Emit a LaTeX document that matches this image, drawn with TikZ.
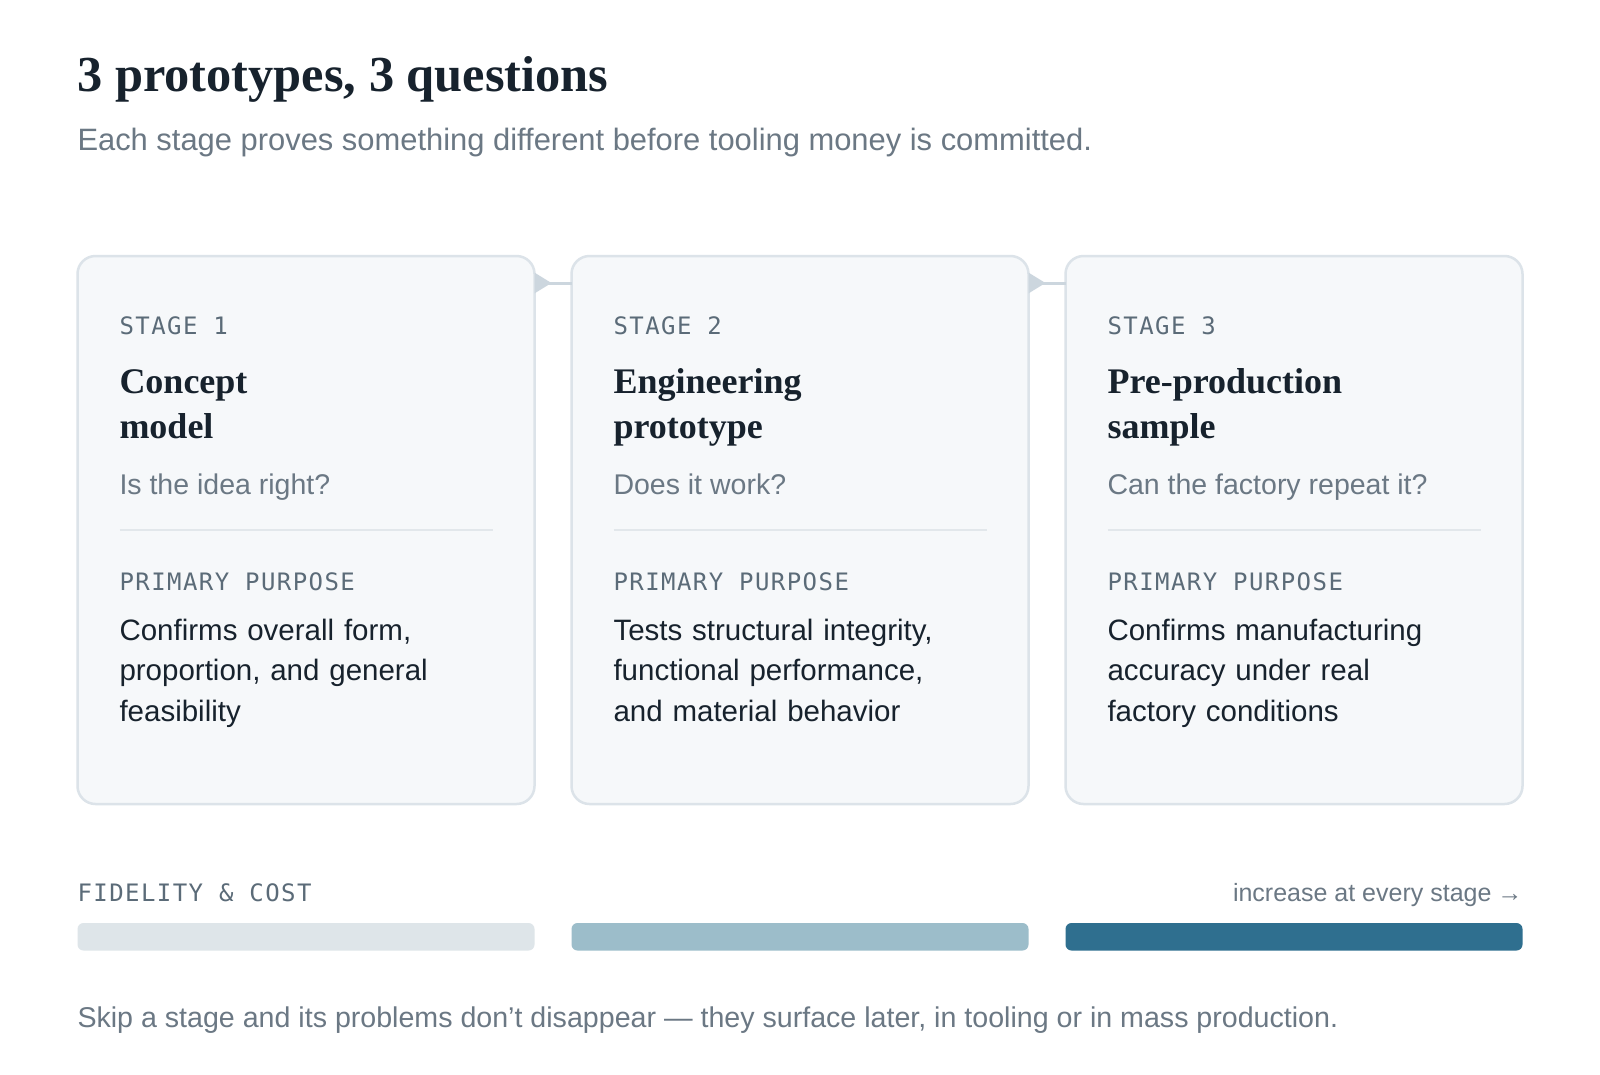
\documentclass[tikz,border=0pt]{standalone}
\usepackage{fontspec}
\setmainfont{Liberation Sans}
\newfontfamily\headfont{Liberation Serif}
\newfontfamily\tagfont[LetterSpace=6]{DejaVu Sans Mono}
\usetikzlibrary{positioning, arrows.meta}
\definecolor{ink}{HTML}{17222D}
\definecolor{mute}{HTML}{6B7884}
\definecolor{tagc}{HTML}{5B6B78}
\definecolor{cardfill}{HTML}{F6F8FA}
\definecolor{cardline}{HTML}{DCE3E9}
\definecolor{rulec}{HTML}{E2E7EB}
\definecolor{linkc}{HTML}{CCD6DE}
\definecolor{barlo}{HTML}{DEE5E9}
\definecolor{barmid}{HTML}{9CBDCA}
\definecolor{barhi}{HTML}{2F6F8F}
\tikzset{
    card/.style={
        draw=cardline, fill=cardfill, line width=2.5pt,
        rounded corners=18pt, inner sep=0pt, outer sep=0pt,
        minimum width=457pt, minimum height=548pt, anchor=north west
    },
    bar/.style={
        inner sep=0pt, outer sep=0pt, rounded corners=6pt,
        minimum width=457pt, minimum height=27.5pt
    },
    txt/.style={inner sep=0pt, outer sep=0pt, anchor=base west},
    tag/.style={txt, text=tagc, font=\tagfont\fontsize{24}{28}\selectfont},
    head/.style={txt, text=ink, text width=380pt, align=left,
        font=\headfont\bfseries\fontsize{36}{45}\selectfont},
    ask/.style={txt, text=mute, font=\fontsize{28.5}{34}\selectfont},
    body/.style={txt, text=ink, text width=390pt, align=left,
        font=\fontsize{29.5}{40.5}\selectfont},
    rule/.style={draw=rulec, line width=2pt},
    link/.style={draw=linkc, line width=3pt,
        {Triangle[reversed, length=17pt, width=20pt]}-}
}

\begin{document}
\begin{tikzpicture}[x=1pt, y=-1pt, node distance=37pt]
\fill[white] (0,0) rectangle (1600,1074);
\useasboundingbox (0,0) rectangle (1600,1074);

% heading
\node[txt, text=ink, font=\headfont\bfseries\fontsize{50.4}{60}\selectfont] (T) at (77.5,91) {3 prototypes, 3 questions};
\node[txt, text=mute, font=\fontsize{30.9}{36}\selectfont] (S) at (77.5,150) {Each stage proves something different before tooling money is committed.};

% cards
\node[card]               (A) at (77.5,256) {};
\node[card, right=of A]   (B) {};
\node[card, right=of B]   (C) {};

\node[tag]  (A1) at ([shift={(42,78)}]A.north west)  {STAGE 1};
\node[head] (A2) at ([shift={(42,137)}]A.north west) {Concept\\model};
\node[ask]  (A3) at ([shift={(42,238)}]A.north west) {Is the idea right?};
\node[tag]  (A4) at ([shift={(42,334)}]A.north west) {PRIMARY PURPOSE};
\node[body] (A5) at ([shift={(42,384)}]A.north west) {Confirms overall form,\\proportion, and general\\feasibility};

\node[tag]  (B1) at ([shift={(42,78)}]B.north west)  {STAGE 2};
\node[head] (B2) at ([shift={(42,137)}]B.north west) {Engineering\\prototype};
\node[ask]  (B3) at ([shift={(42,238)}]B.north west) {Does it work?};
\node[tag]  (B4) at ([shift={(42,334)}]B.north west) {PRIMARY PURPOSE};
\node[body] (B5) at ([shift={(42,384)}]B.north west) {Tests structural integrity,\\functional performance,\\and material behavior};

\node[tag]  (C1) at ([shift={(42,78)}]C.north west)  {STAGE 3};
\node[head] (C2) at ([shift={(42,137)}]C.north west) {Pre-production\\sample};
\node[ask]  (C3) at ([shift={(42,238)}]C.north west) {Can the factory repeat it?};
\node[tag]  (C4) at ([shift={(42,334)}]C.north west) {PRIMARY PURPOSE};
\node[body] (C5) at ([shift={(42,384)}]C.north west) {Confirms manufacturing\\accuracy under real\\factory conditions};

\draw[rule] ([shift={(42,274)}]A.north west) -- ([shift={(-42,274)}]A.north east);
\draw[rule] ([shift={(42,274)}]B.north west) -- ([shift={(-42,274)}]B.north east);
\draw[rule] ([shift={(42,274)}]C.north west) -- ([shift={(-42,274)}]C.north east);

\draw[link] ([shift={(0,27)}]A.north east) -- ([shift={(0,27)}]B.north west);
\draw[link] ([shift={(0,27)}]B.north east) -- ([shift={(0,27)}]C.north west);

% fidelity & cost
\node[bar, fill=barlo,  below=119pt of A] (FA) {};
\node[bar, fill=barmid, below=119pt of B] (FB) {};
\node[bar, fill=barhi,  below=119pt of C] (FC) {};

\node[tag] (FL) at ([shift={(0,-21.5)}]FA.north west) {FIDELITY \& COST};
\node[txt, anchor=base east, text=mute, font=\fontsize{25}{30}\selectfont] (FR) at ([shift={(0,-21.5)}]FC.north east) {increase at every stage\hspace{6pt}→};

\node[txt, text=mute, font=\fontsize{28.6}{34}\selectfont] (N) at ([shift={(0,77)}]FA.south west) {Skip a stage and its problems don’t disappear — they surface later, in tooling or in mass production.};
\end{tikzpicture}
\end{document}
